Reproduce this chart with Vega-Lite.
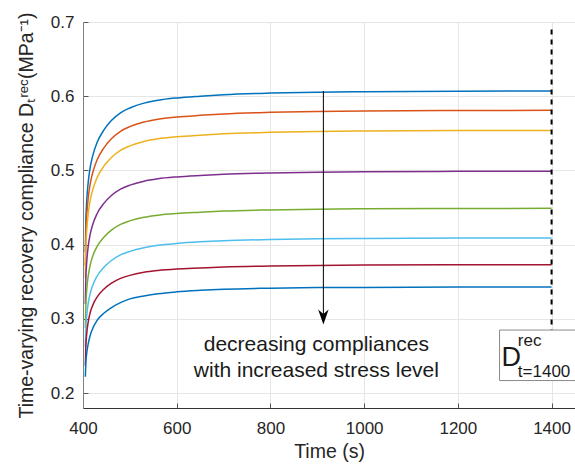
{
  "$schema": "https://vega.github.io/schema/vega-lite/v6.json",
  "width": 492,
  "height": 386,
  "autosize": {"type": "none"},
  "padding": {"left": 83, "top": 22, "right": 0, "bottom": 58},
  "background": "white",
  "config": {
    "view": {"stroke": null},
    "font": "Liberation Sans",
    "axis": {
      "labelFont": "Liberation Sans",
      "titleFont": "Liberation Sans",
      "labelFontSize": 17,
      "titleFontSize": 19.5,
      "titleFontWeight": "normal",
      "labelColor": "#262626",
      "titleColor": "#262626",
      "gridColor": "#e6e6e6",
      "gridWidth": 1,
      "tickColor": "#555555",
      "tickSize": -5
    }
  },
  "data": {
    "values": [
      {"t":405,"s":1,"v":0.3900},{"t":406,"s":1,"v":0.4291},{"t":408,"s":1,"v":0.4594},{"t":411,"s":1,"v":0.4833},{"t":415,"s":1,"v":0.5028},{"t":420,"s":1,"v":0.5180},{"t":430,"s":1,"v":0.5376},{"t":445,"s":1,"v":0.5549},{"t":460,"s":1,"v":0.5669},{"t":480,"s":1,"v":0.5777},{"t":500,"s":1,"v":0.5842},{"t":530,"s":1,"v":0.5907},{"t":560,"s":1,"v":0.5946},{"t":600,"s":1,"v":0.5977},{"t":650,"s":1,"v":0.6001},{"t":700,"s":1,"v":0.6020},{"t":800,"s":1,"v":0.6042},{"t":900,"s":1,"v":0.6055},{"t":1000,"s":1,"v":0.6061},{"t":1200,"s":1,"v":0.6068},{"t":1400,"s":1,"v":0.6070},
      {"t":405,"s":2,"v":0.3720},{"t":406,"s":2,"v":0.4096},{"t":408,"s":2,"v":0.4389},{"t":411,"s":2,"v":0.4619},{"t":415,"s":2,"v":0.4807},{"t":420,"s":2,"v":0.4953},{"t":430,"s":2,"v":0.5141},{"t":445,"s":2,"v":0.5308},{"t":460,"s":2,"v":0.5423},{"t":480,"s":2,"v":0.5528},{"t":500,"s":2,"v":0.5591},{"t":530,"s":2,"v":0.5653},{"t":560,"s":2,"v":0.5691},{"t":600,"s":2,"v":0.5720},{"t":650,"s":2,"v":0.5743},{"t":700,"s":2,"v":0.5762},{"t":800,"s":2,"v":0.5783},{"t":900,"s":2,"v":0.5795},{"t":1000,"s":2,"v":0.5802},{"t":1200,"s":2,"v":0.5808},{"t":1400,"s":2,"v":0.5810},
      {"t":405,"s":3,"v":0.3550},{"t":406,"s":3,"v":0.3908},{"t":408,"s":3,"v":0.4187},{"t":411,"s":3,"v":0.4406},{"t":415,"s":3,"v":0.4585},{"t":420,"s":3,"v":0.4724},{"t":430,"s":3,"v":0.4903},{"t":445,"s":3,"v":0.5062},{"t":460,"s":3,"v":0.5172},{"t":480,"s":3,"v":0.5271},{"t":500,"s":3,"v":0.5331},{"t":530,"s":3,"v":0.5391},{"t":560,"s":3,"v":0.5427},{"t":600,"s":3,"v":0.5454},{"t":650,"s":3,"v":0.5476},{"t":700,"s":3,"v":0.5494},{"t":800,"s":3,"v":0.5514},{"t":900,"s":3,"v":0.5526},{"t":1000,"s":3,"v":0.5532},{"t":1200,"s":3,"v":0.5538},{"t":1400,"s":3,"v":0.5540},
      {"t":405,"s":4,"v":0.3200},{"t":406,"s":4,"v":0.3522},{"t":408,"s":4,"v":0.3773},{"t":411,"s":4,"v":0.3970},{"t":415,"s":4,"v":0.4131},{"t":420,"s":4,"v":0.4256},{"t":430,"s":4,"v":0.4417},{"t":445,"s":4,"v":0.4560},{"t":460,"s":4,"v":0.4659},{"t":480,"s":4,"v":0.4748},{"t":500,"s":4,"v":0.4802},{"t":530,"s":4,"v":0.4856},{"t":560,"s":4,"v":0.4888},{"t":600,"s":4,"v":0.4913},{"t":650,"s":4,"v":0.4933},{"t":700,"s":4,"v":0.4949},{"t":800,"s":4,"v":0.4967},{"t":900,"s":4,"v":0.4977},{"t":1000,"s":4,"v":0.4983},{"t":1200,"s":4,"v":0.4988},{"t":1400,"s":4,"v":0.4990},
      {"t":405,"s":5,"v":0.2880},{"t":406,"s":5,"v":0.3170},{"t":408,"s":5,"v":0.3395},{"t":411,"s":5,"v":0.3572},{"t":415,"s":5,"v":0.3717},{"t":420,"s":5,"v":0.3830},{"t":430,"s":5,"v":0.3975},{"t":445,"s":5,"v":0.4104},{"t":460,"s":5,"v":0.4192},{"t":480,"s":5,"v":0.4273},{"t":500,"s":5,"v":0.4321},{"t":530,"s":5,"v":0.4369},{"t":560,"s":5,"v":0.4398},{"t":600,"s":5,"v":0.4421},{"t":650,"s":5,"v":0.4438},{"t":700,"s":5,"v":0.4453},{"t":800,"s":5,"v":0.4469},{"t":900,"s":5,"v":0.4479},{"t":1000,"s":5,"v":0.4484},{"t":1200,"s":5,"v":0.4488},{"t":1400,"s":5,"v":0.4490},
      {"t":405,"s":6,"v":0.2620},{"t":406,"s":6,"v":0.2860},{"t":408,"s":6,"v":0.3050},{"t":411,"s":6,"v":0.3205},{"t":415,"s":6,"v":0.3335},{"t":420,"s":6,"v":0.3440},{"t":430,"s":6,"v":0.3575},{"t":445,"s":6,"v":0.3698},{"t":460,"s":6,"v":0.3784},{"t":480,"s":6,"v":0.3862},{"t":500,"s":6,"v":0.3910},{"t":530,"s":6,"v":0.3960},{"t":560,"s":6,"v":0.3992},{"t":600,"s":6,"v":0.4017},{"t":650,"s":6,"v":0.4038},{"t":700,"s":6,"v":0.4053},{"t":800,"s":6,"v":0.4069},{"t":900,"s":6,"v":0.4079},{"t":1000,"s":6,"v":0.4084},{"t":1200,"s":6,"v":0.4089},{"t":1400,"s":6,"v":0.4090},
      {"t":405,"s":7,"v":0.2370},{"t":406,"s":7,"v":0.2615},{"t":408,"s":7,"v":0.2805},{"t":411,"s":7,"v":0.2955},{"t":415,"s":7,"v":0.3077},{"t":420,"s":7,"v":0.3172},{"t":430,"s":7,"v":0.3295},{"t":445,"s":7,"v":0.3404},{"t":460,"s":7,"v":0.3478},{"t":480,"s":7,"v":0.3546},{"t":500,"s":7,"v":0.3587},{"t":530,"s":7,"v":0.3628},{"t":560,"s":7,"v":0.3652},{"t":600,"s":7,"v":0.3672},{"t":650,"s":7,"v":0.3686},{"t":700,"s":7,"v":0.3699},{"t":800,"s":7,"v":0.3712},{"t":900,"s":7,"v":0.3720},{"t":1000,"s":7,"v":0.3725},{"t":1200,"s":7,"v":0.3729},{"t":1400,"s":7,"v":0.3730},
      {"t":405,"s":8,"v":0.2220},{"t":406,"s":8,"v":0.2400},{"t":408,"s":8,"v":0.2540},{"t":411,"s":8,"v":0.2660},{"t":415,"s":8,"v":0.2770},{"t":420,"s":8,"v":0.2860},{"t":430,"s":8,"v":0.2980},{"t":445,"s":8,"v":0.3080},{"t":460,"s":8,"v":0.3150},{"t":480,"s":8,"v":0.3220},{"t":500,"s":8,"v":0.3270},{"t":530,"s":8,"v":0.3310},{"t":560,"s":8,"v":0.3340},{"t":600,"s":8,"v":0.3365},{"t":650,"s":8,"v":0.3385},{"t":700,"s":8,"v":0.3400},{"t":800,"s":8,"v":0.3414},{"t":900,"s":8,"v":0.3422},{"t":1000,"s":8,"v":0.3425},{"t":1200,"s":8,"v":0.3429},{"t":1400,"s":8,"v":0.3430}
    ]
  },
  "layer": [
    {
      "mark": {"type": "line", "strokeWidth": 1.5, "interpolate": "monotone", "clip": true},
      "encoding": {
        "x": {
          "field": "t", "type": "quantitative",
          "scale": {"domain": [400, 1450], "nice": false, "zero": false},
          "axis": {"title": "Time (s)", "values": [400, 600, 800, 1000, 1200, 1400], "format": "d", "domainColor": "#333333", "labelPadding": 17, "titlePadding": 6, "labelFlush": false}
        },
        "y": {
          "field": "v", "type": "quantitative",
          "scale": {"domain": [0.18, 0.7], "nice": false, "zero": false},
          "axis": {"title": "Time-varying recovery compliance Dₜʳᵉᶜ(MPa⁻¹)", "values": [0.2, 0.3, 0.4, 0.5, 0.6, 0.7], "format": ".1f", "domainColor": "#808080", "labelPadding": 14, "titlePadding": 14, "labelFlush": false}
        },
        "color": {
          "field": "s", "type": "nominal", "legend": null,
          "scale": {"domain": [1, 2, 3, 4, 5, 6, 7, 8], "range": ["#0072BD", "#D95319", "#EDB120", "#7E2F8E", "#77AC30", "#4DBEEE", "#A2142F", "#0072BD"]}
        }
      }
    },
    {
      "data": {"values": [{}]},
      "mark": {"type": "rule", "color": "black", "strokeWidth": 2, "strokeDash": [5, 5]},
      "encoding": {"x": {"datum": 1400}, "y": {"datum": 0.69}, "y2": {"datum": 0.285}}
    },
    {
      "data": {"values": [{}]},
      "mark": {"type": "rule", "color": "black", "strokeWidth": 1},
      "encoding": {"x": {"datum": 913}, "y": {"datum": 0.607}, "y2": {"datum": 0.305}}
    },
    {
      "data": {"values": [{}]},
      "mark": {"type": "point", "shape": "M-0.7,-1L0,1L0.7,-1L0,-0.4Z", "size": 225, "filled": true, "color": "black", "opacity": 1},
      "encoding": {"x": {"datum": 913}, "y": {"datum": 0.3027}}
    },
    {
      "data": {"values": [{}]},
      "mark": {"type": "text", "text": ["decreasing compliances", "with increased stress level"], "fontSize": 21, "lineHeight": 26, "align": "center", "baseline": "alphabetic", "color": "#1a1a1a"},
      "encoding": {"x": {"datum": 898}, "y": {"datum": 0.257}}
    },
    {
      "data": {"values": [{}]},
      "mark": {"type": "rect", "fill": "white", "stroke": "#8a8a8a", "strokeWidth": 1},
      "encoding": {"x": {"datum": 1289}, "x2": {"datum": 1465}, "y": {"datum": 0.285}, "y2": {"datum": 0.217}}
    },
    {
      "data": {"values": [{}]},
      "mark": {"type": "text", "text": "D", "fontSize": 27, "align": "left", "baseline": "alphabetic", "color": "#1a1a1a"},
      "encoding": {"x": {"datum": 1293}, "y": {"datum": 0.2369}}
    },
    {
      "data": {"values": [{}]},
      "mark": {"type": "text", "text": "rec", "fontSize": 17, "align": "left", "baseline": "alphabetic", "color": "#1a1a1a"},
      "encoding": {"x": {"datum": 1328}, "y": {"datum": 0.2638}}
    },
    {
      "data": {"values": [{}]},
      "mark": {"type": "text", "text": "t=1400", "fontSize": 17, "align": "left", "baseline": "alphabetic", "color": "#1a1a1a"},
      "encoding": {"x": {"datum": 1328}, "y": {"datum": 0.2222}}
    }
  ]
}
